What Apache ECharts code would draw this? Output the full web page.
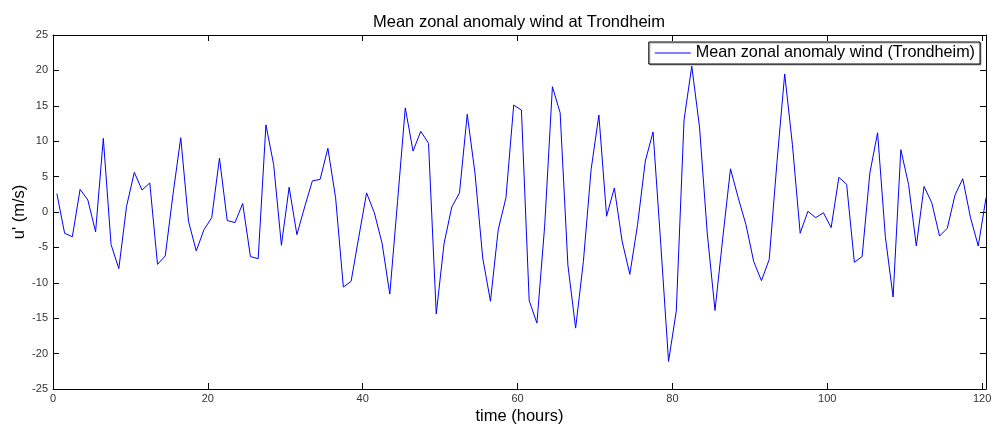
<!DOCTYPE html>
<html>
<head>
<meta charset="utf-8">
<script src="https://cdn.jsdelivr.net/npm/echarts@6/dist/echarts.min.js"></script>
<style>
html,body{margin:0;padding:0;background:#fff;}
#chart{width:992px;height:429px;}
</style>
</head>
<body>
<div id="chart"></div>
<script>
// time (hours) at the centre of each hourly interval
var times = [];
for (var k = 0; k <= 120; k++) { times.push(k + 0.5); }

// mean zonal anomaly wind u' (m/s)
var windValues = [
  2.6, -3.0, -3.5, 3.2, 1.7, -2.8, 10.4, -4.6, -8.0, 0.8,
  5.6, 3.1, 4.1, -7.4, -6.2, 2.5, 10.5, -1.3, -5.5, -2.5,
  -0.8, 7.6, -1.2, -1.5, 1.2, -6.3, -6.6, 12.3, 6.7, -4.7,
  3.5, -3.2, 0.7, 4.4, 4.6, 9.0, 2.0, -10.6, -9.8, -3.5,
  2.7, -0.1, -4.4, -11.6, 1.5, 14.7, 8.6, 11.4, 9.7, -14.4,
  -4.5, 0.7, 2.7, 13.8, 5.5, -6.5, -12.6, -2.5, 2.0, 15.1,
  14.4, -12.5, -15.7, -2.0, 17.7, 14.0, -7.5, -16.4, -7.0, 6.0,
  13.7, -0.6, 3.4, -4.1, -8.8, -1.8, 7.2, 11.3, -4.6, -21.1,
  -14.0, 13.0, 20.6, 12.0, -3.0, -13.9, -3.7, 6.1, 2.0, -1.8,
  -7.0, -9.7, -6.7, 7.0, 19.5, 9.5, -3.0, 0.1, -0.8, -0.1,
  -2.2, 4.9, 3.9, -7.1, -6.3, 5.5, 11.2, -3.5, -12.0, 8.8,
  3.9, -4.8, 3.6, 1.3, -3.4, -2.3, 2.4, 4.7, -0.8, -4.8,
  2.0
];

var xTicks = [0, 20, 40, 60, 80, 100, 120];
var yTicks = [-25, -20, -15, -10, -5, 0, 5, 10, 15, 20, 25];

var titleText = 'Mean zonal anomaly wind at Trondheim';
var seriesName = 'Mean zonal anomaly wind (Trondheim)';
var xName = 'time (hours)';
var yName = "u' (m/s)";

var pairs = times.map(function (t, i) { return [t, windValues[i]]; });

var FONT = 'Liberation Sans, Arial, sans-serif';
var chart = echarts.init(document.getElementById('chart'), null, {renderer: 'canvas'});

function tickLabel(v) {
  return xTicks.indexOf(v) >= 0 ? String(v) : '';
}

function axisCommon() {
  return {
    axisLine: {show: true, onZero: false, lineStyle: {color: '#000', width: 1}},
    axisTick: {show: true, inside: true, length: 6, lineStyle: {color: '#000'}},
    splitLine: {show: false}
  };
}

chart.setOption({
  animation: false,
  backgroundColor: '#fff',
  title: {
    text: titleText,
    left: 514,
    top: 9,
    textAlign: 'center',
    textStyle: {fontFamily: FONT, fontSize: 16.5, fontWeight: 'normal', color: '#000'}
  },
  legend: {
    data: [seriesName],
    icon: 'rect',
    right: 12,
    top: 42,
    padding: [3, 5, 3, 6],
    itemWidth: 36,
    itemHeight: 1,
    itemGap: 4,
    borderColor: '#000',
    borderWidth: 1,
    backgroundColor: '#fff',
    shadowColor: 'rgba(0,0,0,0.35)',
    shadowOffsetX: 1,
    shadowOffsetY: 1,
    textStyle: {fontFamily: FONT, fontSize: 16.2, color: '#000'}
  },
  grid: {left: 53, top: 35, width: 933, height: 354, containLabel: false, outerBoundsMode: 'none'},
  xAxis: [
    Object.assign({
      type: 'value', min: 0, max: 120.5, interval: 20, position: 'bottom',
      name: xName, nameLocation: 'middle', nameGap: 19, nameMoveOverlap: false,
      nameTextStyle: {fontFamily: FONT, fontSize: 16.5, color: '#000'},
      axisLabel: {formatter: tickLabel, fontFamily: FONT, fontSize: 11, color: '#333', margin: 4}
    }, axisCommon()),
    Object.assign({
      type: 'value', min: 0, max: 120.5, interval: 20, position: 'top',
      axisLabel: {show: false}
    }, axisCommon())
  ],
  yAxis: [
    Object.assign({
      type: 'value', min: yTicks[0], max: yTicks[yTicks.length - 1], interval: 5, position: 'left',
      name: yName, nameLocation: 'middle', nameGap: 25, nameMoveOverlap: false,
      nameTextStyle: {fontFamily: FONT, fontSize: 16.5, color: '#000'},
      axisLabel: {fontFamily: FONT, fontSize: 11, color: '#333', margin: 5}
    }, axisCommon()),
    Object.assign({
      type: 'value', min: yTicks[0], max: yTicks[yTicks.length - 1], interval: 5, position: 'right',
      axisLabel: {show: false}
    }, axisCommon())
  ],
  series: [{
    name: seriesName,
    type: 'line',
    data: pairs,
    symbol: 'none',
    showSymbol: false,
    lineStyle: {color: '#0000ff', width: 1},
    itemStyle: {color: '#0000ff'},
    clip: true
  }]
});
</script>
</body>
</html>
